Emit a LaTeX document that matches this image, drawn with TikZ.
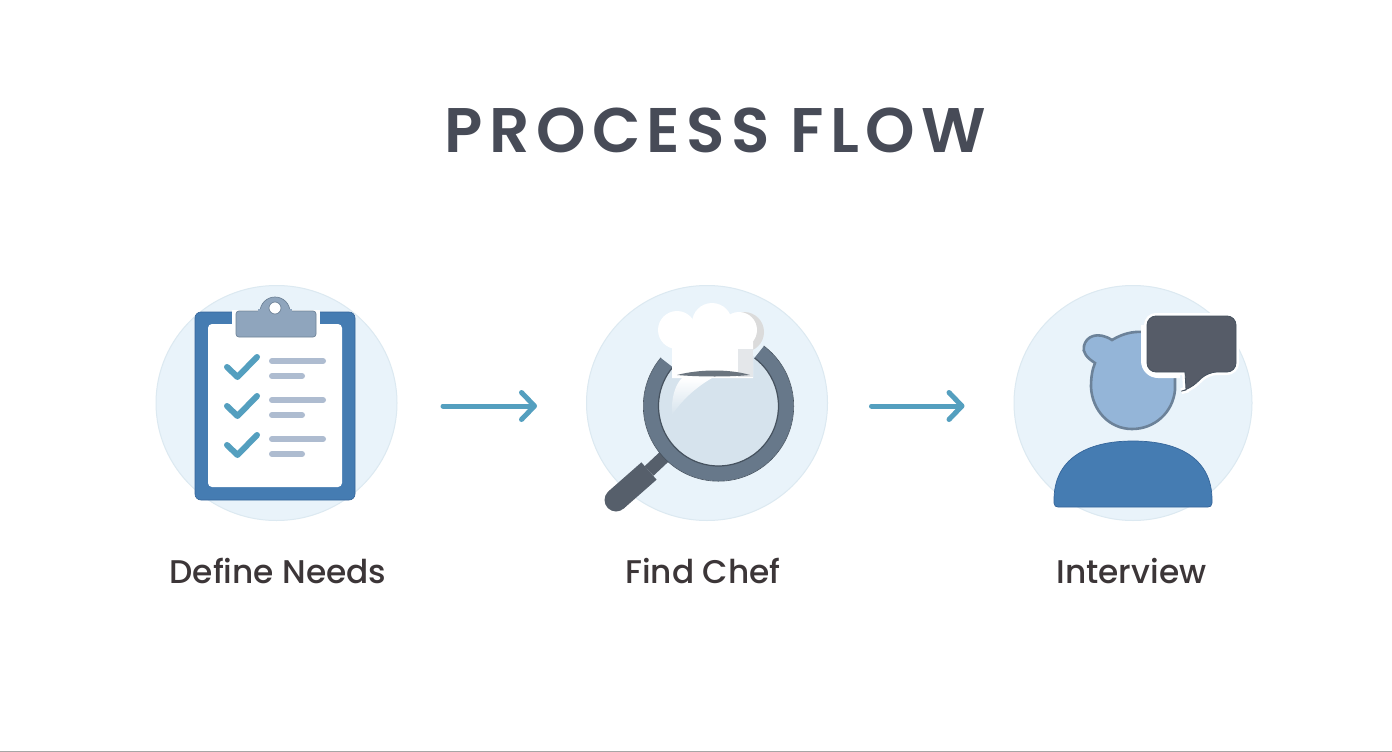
\documentclass[tikz,border=0pt]{standalone}
\usepackage{fontspec}
\usepackage{xcolor}
\setmainfont{Poppins}
\newfontfamily\titlefont[LetterSpace=10.0]{Poppins SemiBold}
\newfontfamily\labelfont{Poppins Medium}
\usetikzlibrary{arrows.meta,shapes.geometric}
\definecolor{disc}{HTML}{E9F3FA}
\definecolor{discline}{HTML}{DCE9F1}
\definecolor{boardblue}{HTML}{457CB2}
\definecolor{boardedge}{HTML}{35659A}
\definecolor{clipgrey}{HTML}{8FA5BD}
\definecolor{clipedge}{HTML}{6E8398}
\definecolor{tealc}{HTML}{549FBF}
\definecolor{barc}{HTML}{AEBCD0}
\definecolor{ring}{HTML}{67788A}
\definecolor{ringdark}{HTML}{46525F}
\definecolor{handlec}{HTML}{565F6B}
\definecolor{lens}{HTML}{D6E3ED}
\definecolor{headc}{HTML}{94B5D8}
\definecolor{headedge}{HTML}{6C8299}
\definecolor{bubble}{HTML}{565C68}
\definecolor{hatshade}{HTML}{E4E7EA}
\definecolor{ink}{HTML}{474B57}
\definecolor{labelink}{HTML}{3C3638}
\tikzset{
 discnode/.style={ellipse,draw=discline,fill=disc,line width=1pt,minimum width=241pt,minimum height=235pt,inner sep=0pt},
 flow/.style={draw=tealc,line width=5pt,line cap=round,-{Straight Barb[round,length=13pt,width=27pt,line width=5pt]}},
 checkm/.style={draw=tealc,line width=6pt,line cap=round,line join=round},
 barl/.style={draw=barc,line width=6pt,line cap=round},
 lab/.style={font=\fontsize{32.8}{36}\selectfont\labelfont,text=labelink,anchor=center,inner sep=0pt},
}
\def\headpath{(1175,372) -- (1175,390) .. controls (1173,412) and (1155,429) .. (1132,429)
 .. controls (1109,429) and (1092,410) .. (1091,387) .. controls (1091,378) and (1092,370) .. (1095,363)
 .. controls (1087,358) and (1082,352) .. (1084,346) .. controls (1086,336) and (1098,331) .. (1112,340)
 .. controls (1122,334) and (1132,331) .. (1145,332) -- (1175,332) -- cycle}
\def\bubblepath{[rounded corners=9pt] (1147,316) -- (1236,316) -- (1236,372) -- (1208,372) -- (1190,389) [sharp corners] -- (1186,390) -- (1185,372) [rounded corners=9pt] -- (1147,372) -- cycle}
\begin{document}
\begin{tikzpicture}[x=1pt,y=-1pt]
\useasboundingbox (0,0) rectangle (1392,752);
\fill[white] (0,0) rectangle (1392,752);
\fill[black!35] (0,751) rectangle (1392,752);
\node[inner sep=0pt,text=ink,font=\fontsize{63}{70}\selectfont\titlefont] (title) at (715.5,130) {PROCESS FLOW};
\node[discnode] (c1) at (276.5,403) {};
\node[discnode] (c2) at (707,403) {};
\node[discnode,minimum width=238pt] (c3) at (1133,403) {};
\draw[flow,shorten <=45.5pt,shorten >=49pt] ([yshift=-3pt]c1.east) -- ([yshift=-3pt]c2.west);
\draw[flow,shorten <=43.5pt,shorten >=49pt] ([yshift=-3pt]c2.east) -- ([yshift=-3pt]c3.west);
% clipboard
\fill[boardblue,draw=boardedge,line width=.6pt,rounded corners=6pt] (195,312) rectangle (355,500);
\fill[white,rounded corners=4pt] (208,324) rectangle (342,487);
\fill[white] (232,310) rectangle (320,325);
\fill[clipgrey,draw=clipedge,line width=.7pt,rounded corners=3pt] (236,311) rectangle (316,337);
\fill[clipgrey,draw=clipedge,line width=.7pt] (260,312) arc[start angle=180,end angle=0,radius=15pt] -- cycle;
\fill[clipgrey] (258,309) rectangle (292,318);
\fill[white,draw=clipedge,line width=.7pt] (275,308) circle[radius=6pt];
\foreach \y in {0,39,78}{
 \draw[checkm] (227,367+\y) -- (237.5,377+\y) -- (257,357+\y);
 \draw[barl] (272,361+\y) -- (323,361+\y);
 \draw[barl] (272,376+\y) -- (302,376+\y);
}
% magnifier
\draw[handlec,line width=13pt] (665,456) -- (649,471);
\draw[handlec,line width=23pt] (649,471) -- (616,500);
\fill[handlec] (616,500) circle[radius=11.5pt];
\fill[lens] (718.5,406) circle[radius=61pt];
\shade[top color=white,bottom color=lens] (672,415) .. controls (671,398) and (675,385) .. (682,378) -- (712,378) .. controls (695,388) and (682,400) .. (672,415) -- cycle;
\draw[ring,line width=15pt] (718.5,406) ++(53:67.5pt) arc[start angle=53,end angle=-220,radius=67.5pt];
\draw[ringdark,line width=1.2pt] (718.5,406) ++(53:60pt) arc[start angle=53,end angle=-220,radius=60pt];
\draw[ringdark,line width=.6pt] (718.5,406) ++(53:75.2pt) arc[start angle=53,end angle=-220,radius=75.2pt];
% hat
\fill[black!14] (744,332) circle[radius=20pt];
\fill[white] (677,330) circle[radius=19pt];
\fill[white] (712,323) circle[radius=20pt];
\fill[white] (739,330) circle[radius=18pt];
\fill[white] (672,330) -- (672,378) -- (753,378) -- (753,352) -- (753,330) -- cycle;
\fill[white] (680,320) rectangle (740,348);
\fill[hatshade] (738,349) rectangle (753,377);
\fill[ringdark!80] (677,375) .. controls (700,369) and (730,369) .. (750,375) .. controls (730,377) and (700,377) .. (677,375) -- cycle;
% person
\fill[headc,draw=headedge,line width=2.6pt] \headpath;
\begin{scope}
\clip (1085,325) rectangle (1180,380);
\fill[white,rounded corners=17pt] (1141,300) rectangle (1250,378);
\end{scope}
\draw[white,line width=6pt] \bubblepath;
\fill[bubble,draw=ringdark,line width=.8pt] \bubblepath;
\fill[boardblue,draw=boardedge,line width=.7pt] (1054,500) .. controls (1054,460) and (1085,441) .. (1133,441) .. controls (1181,441) and (1212,460) .. (1212,500) -- (1212,503) .. controls (1212,506) and (1210,507) .. (1208,507) -- (1058,507) .. controls (1056,507) and (1054,506) .. (1054,503) -- cycle;
% labels
\node[lab] (l1) at (278,571) {Define Needs};
\node[lab] (l2) at (703,571) {Find Chef};
\node[lab] (l3) at (1131.5,571) {Interview};
\end{tikzpicture}
\end{document}
